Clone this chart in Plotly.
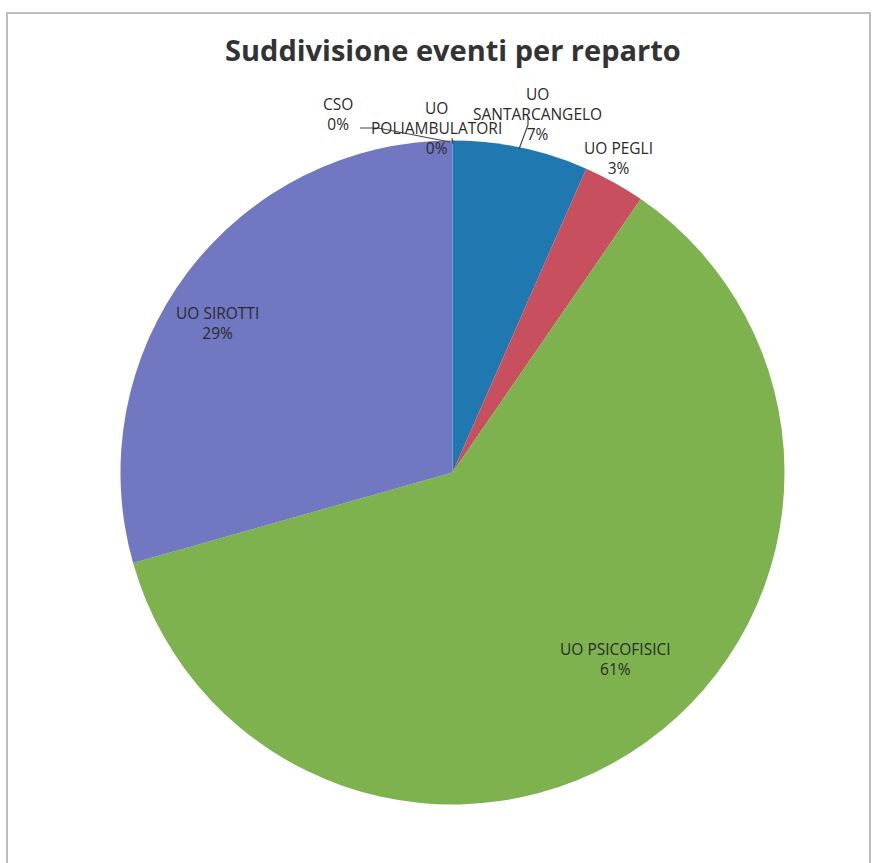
import plotly.graph_objects as go

# Data
categories = ["UO SANTARCANGELO", "UO PEGLI", "UO PSICOFISICI", "UO SIROTTI", "CSO", "UO POLIAMBULATORI"]
values = [6.6, 3.0, 61.0, 29.4, 0.0, 0.0]
label_lines = [["UO", "SANTARCANGELO"], ["UO PEGLI"], ["UO PSICOFISICI"], ["UO SIROTTI"], ["CSO"], ["UO", "POLIAMBULATORI"]]
colors = ["#1F78B0", "#C8505E", "#7DB24E", "#7177C0", "#7177C0", "#1F78B0"]

W, H = 877, 863
# label centre positions in screen pixels (layout)
label_pos = [(537, 114), (618, 158), (615, 659), (217, 323), (338, 114), (436, 128)]

cx, cy, r = 452.5, 472.5, 332


def px(x):
    return x / W


def py(y):
    return 1 - y / H


fig = go.Figure(go.Pie(
    labels=categories, values=values, sort=False, direction="clockwise", rotation=0,
    marker=dict(colors=colors, line=dict(width=0)),
    textinfo="none", hoverinfo="label+percent", showlegend=False,
    domain=dict(x=[px(cx - r), px(cx + r)], y=[py(cy + r), py(cy - r)]),
))

annotations = []
for cat, lines, v, (lx, ly) in zip(categories, label_lines, values, label_pos):
    txt = "<br>".join(lines + [f"{round(v)}%"])
    annotations.append(dict(
        x=px(lx), y=py(ly), xref="paper", yref="paper", text=txt, showarrow=False,
        font=dict(family="Open Sans, sans-serif", size=15.5, color="#2a2a2a"), align="center",
        xanchor="center", yanchor="middle",
    ))
annotations.append(dict(
    x=px(cx), y=py(50), xref="paper", yref="paper", text="<b>Suddivisione eventi per reparto</b>",
    showarrow=False, font=dict(family="Open Sans, sans-serif", size=29, color="#333333"),
    xanchor="center", yanchor="middle",
))


def pline(pts):
    path = "M " + " L ".join(f"{px(x)},{py(y)}" for x, y in pts)
    return dict(type="path", path=path, xref="paper", yref="paper", line=dict(color="#444444", width=1.2))


shapes = [
    dict(type="rect", x0=px(7), x1=px(870), y0=-0.02, y1=py(13), xref="paper", yref="paper",
         line=dict(color="#bdbdbd", width=2), layer="below"),
    pline([(360, 128), (378, 128), (450, 142)]),
    pline([(528, 117), (528, 125), (519, 149)]),
    pline([(452, 138), (453, 144)]),
]

fig.update_layout(
    width=W, height=H, margin=dict(l=0, r=0, t=0, b=0),
    paper_bgcolor="white", plot_bgcolor="white",
    annotations=annotations, shapes=shapes,
)
fig.write_html("out.html", config={"displayModeBar": False},
               post_script="document.body.style.margin='0';document.body.style.overflow='hidden';")
